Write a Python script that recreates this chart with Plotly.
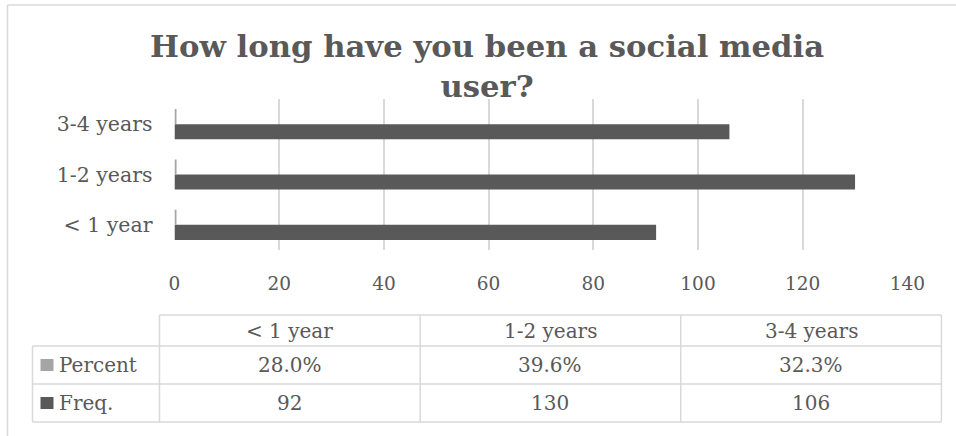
import plotly.graph_objects as go

# ---- data ----
categories = ["< 1 year", "1-2 years", "3-4 years"]
freq = [92, 130, 106]
percent = [0.280, 0.396, 0.323]
series_names = ["Percent", "Freq."]
x_ticks = [0, 20, 40, 60, 80, 100, 120, 140]
title_text = "How long have you been a social media<br>user?"

# ---- style ----
W, H = 956, 436
FONT = "DejaVu Serif"
TXT = "#595959"
GRID = "#d9d9d9"
C_FREQ = "#595959"
C_PCT = "#a5a5a5"
# horizontal calibration of the rendered picture (measured)
SX, OX = 0.975, 6.5

def px(x):
    """target picture x (pixels) -> paper fraction"""
    return ((x - OX) / SX) / W

def py(y):
    return 1 - y / H

fig = go.Figure()
fig.add_trace(go.Bar(y=categories, x=freq, orientation="h", name="Freq.",
                     marker=dict(color=C_FREQ, line=dict(width=0))))
fig.add_trace(go.Bar(y=categories, x=percent, orientation="h", name="Percent",
                     marker=dict(color=C_PCT, line=dict(width=0))))

fig.update_layout(
    width=W, height=H, autosize=False,
    margin=dict(l=0, r=0, t=0, b=0),
    paper_bgcolor="white", plot_bgcolor="white",
    showlegend=False,
    barmode="group", bargap=0.4, bargroupgap=0,
    font=dict(family=FONT, color=TXT, size=20),
    xaxis=dict(domain=[px(175), px(908)], range=[0, 140], tickvals=x_ticks,
               showgrid=True, gridcolor=GRID, gridwidth=1.5, zeroline=False,
               showline=False, ticks="", ticklabelstandoff=20,
               tickfont=dict(family=FONT, size=18.5, color=TXT), fixedrange=True),
    yaxis=dict(domain=[py(250), py(99)], range=[-0.5, 2.5], type="category",
               categoryorder="array", categoryarray=categories,
               showgrid=False, zeroline=False, showline=False, ticks="",
               ticklabelstandoff=21,
               tickfont=dict(family=FONT, size=20.5, color=TXT), fixedrange=True),
)

line = dict(color=GRID, width=1.5)
shapes = []
# outer chart border (top and left edges; the others fall outside the picture)
shapes.append(dict(type="line", xref="paper", yref="paper", x0=px(8), x1=px(970),
                   y0=py(5), y1=py(5), line=line))
shapes.append(dict(type="line", xref="paper", yref="paper", x0=px(8), x1=px(8),
                   y0=py(5), y1=py(H), line=line))
# data table
col_edges = [160, 420.7, 681.3, 942]
leg_left = 33
row_edges = [315, 346, 384, 422]
shapes.append(dict(type="line", xref="paper", yref="paper", x0=px(col_edges[0]), x1=px(col_edges[-1]),
                   y0=py(row_edges[0]), y1=py(row_edges[0]), line=line))
for r in row_edges[1:]:
    shapes.append(dict(type="line", xref="paper", yref="paper", x0=px(leg_left), x1=px(col_edges[-1]),
                       y0=py(r), y1=py(r), line=line))
shapes.append(dict(type="line", xref="paper", yref="paper", x0=px(leg_left), x1=px(leg_left),
                   y0=py(row_edges[1]), y1=py(row_edges[-1]), line=line))
for c in col_edges:
    shapes.append(dict(type="line", xref="paper", yref="paper", x0=px(c), x1=px(c),
                       y0=py(row_edges[0]), y1=py(row_edges[-1]), line=line))

ann = []
ann.append(dict(text=title_text, x=px(488), y=py(26), xref="paper", yref="paper",
                showarrow=False, xanchor="center", yanchor="top",
                font=dict(family=FONT, size=30.7, color=TXT, weight="bold")))
row_centers = [(row_edges[i] + row_edges[i + 1]) / 2 for i in range(3)]
col_centers = [(col_edges[i] + col_edges[i + 1]) / 2 for i in range(3)]
for i, cat in enumerate(categories):
    ann.append(dict(text=cat, x=px(col_centers[i]), y=py(row_centers[0]), xref="paper", yref="paper",
                    showarrow=False, xanchor="center", yanchor="middle"))
    ann.append(dict(text=f"{percent[i]*100:.1f}%", x=px(col_centers[i]), y=py(row_centers[1]),
                    xref="paper", yref="paper", showarrow=False, xanchor="center", yanchor="middle"))
    ann.append(dict(text=str(freq[i]), x=px(col_centers[i]), y=py(row_centers[2]),
                    xref="paper", yref="paper", showarrow=False, xanchor="center", yanchor="middle"))
# legend keys inside the table
leg_colors = [C_PCT, C_FREQ]
for j, name in enumerate(series_names):
    yc = row_centers[j + 1]
    shapes.append(dict(type="rect", xref="paper", yref="paper", x0=px(41), x1=px(54),
                       y0=py(yc + 6), y1=py(yc - 6), fillcolor=leg_colors[j], line=dict(width=0)))
    ann.append(dict(text=name, x=px(58), y=py(yc), xref="paper", yref="paper",
                    showarrow=False, xanchor="left", yanchor="middle"))

fig.update_layout(shapes=shapes, annotations=ann)
fig.write_html("out.html", config={"responsive": False})
